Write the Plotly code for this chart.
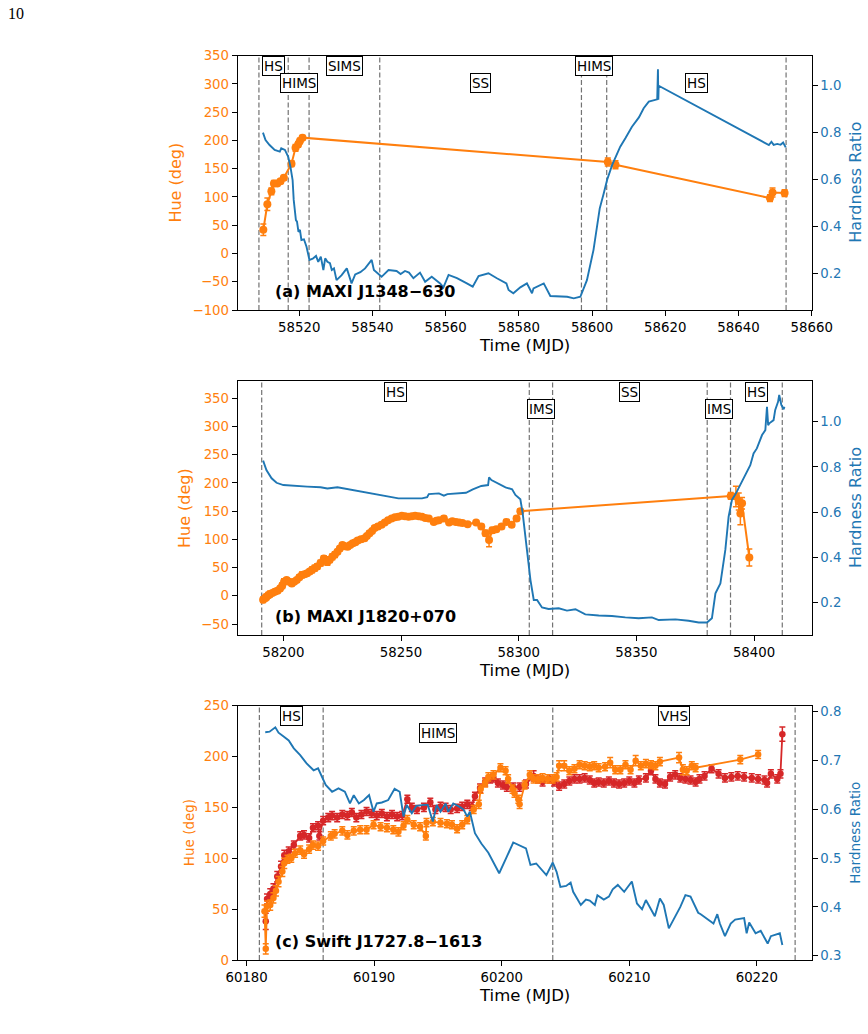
import plotly.graph_objects as go

# ---------------- data ----------------
# Panel (a) MAXI J1348-630 : hue (time, deg, err)
a_hue = [(58510.2, 42, 10), (58511.3, 87, 11), (58512.4, 110, 6), (58513.1, 124, 5),
         (58514.0, 124, 4), (58514.9, 128, 4), (58515.8, 134, 4), (58517.9, 159, 5),
         (58519.0, 187, 6), (58519.7, 193, 5), (58520.2, 199, 5), (58520.9, 205, 4),
         (58604.3, 162, 7), (58606.4, 157, 7), (58648.6, 98, 6), (58649.3, 108, 8),
         (58652.6, 107, 6)]
# Panel (a) hardness ratio (time, HR)
a_hr = [(58510.1, 0.800), (58510.8, 0.768), (58511.9, 0.747), (58513.3, 0.726), (58514.7, 0.719),
        (58515.1, 0.733), (58516.1, 0.726), (58517.0, 0.697), (58517.6, 0.655), (58518.2, 0.598),
        (58518.5, 0.513), (58519.1, 0.427), (58519.4, 0.420), (58519.8, 0.377), (58520.2, 0.385),
        (58520.6, 0.342), (58521.3, 0.345), (58522.0, 0.313), (58522.8, 0.257), (58523.7, 0.262),
        (58524.6, 0.274), (58525.2, 0.249), (58525.9, 0.271), (58526.6, 0.214), (58527.1, 0.264),
        (58527.7, 0.249), (58528.4, 0.243), (58528.9, 0.214), (58529.5, 0.221), (58530.2, 0.171),
        (58531.6, 0.192), (58533.0, 0.221), (58534.3, 0.157), (58535.3, 0.195), (58536.7, 0.205),
        (58538.0, 0.221), (58539.8, 0.257), (58540.4, 0.214), (58542.5, 0.185), (58544.4, 0.214),
        (58546.6, 0.210), (58547.7, 0.197), (58548.9, 0.210), (58550.0, 0.203), (58551.2, 0.179),
        (58553.0, 0.203), (58554.4, 0.164), (58556.2, 0.185), (58558.5, 0.157), (58559.4, 0.140),
        (58560.8, 0.193), (58563.1, 0.179), (58565.8, 0.157), (58567.4, 0.143), (58569.0, 0.188),
        (58571.7, 0.200), (58574.0, 0.179), (58576.6, 0.157), (58577.2, 0.129), (58578.5, 0.115),
        (58580.4, 0.140), (58582.2, 0.157), (58583.6, 0.115), (58584.0, 0.136), (58586.8, 0.157),
        (58588.6, 0.103), (58593.2, 0.100), (58595.0, 0.093), (58596.8, 0.100), (58598.6, 0.171),
        (58600.4, 0.300), (58602.1, 0.477), (58603.2, 0.541), (58604.1, 0.598), (58605.5, 0.662),
        (58606.7, 0.704), (58607.7, 0.740), (58609.1, 0.776), (58610.9, 0.825), (58612.8, 0.865),
        (58614.1, 0.904), (58615.5, 0.932), (58617.8, 0.942), (58618.0, 1.070), (58618.1, 0.940),
        (58618.2, 1.000), (58648.3, 0.747), (58649.0, 0.761), (58649.6, 0.748), (58650.6, 0.752),
        (58651.5, 0.748), (58652.2, 0.758), (58652.9, 0.737)]
a_vlines = [58509.0, 58517.0, 58522.7, 58542.0, 58597.1, 58604.0, 58653.0]
a_states = ["HS", "HIMS", "SIMS", "SS", "HIMS", "HS"]

# Panel (b) MAXI J1820+070
b_hue = [(58191.4, -7, 5), (58192.3, -4, 5), (58192.8, -2, 5), (58193.6, 1, 5), (58194.3, 3, 5),
         (58195.3, 5, 4), (58196.4, 7, 4), (58197.5, 9, 4), (58198.6, 13, 4), (58199.5, 18, 5),
         (58200.3, 25, 5), (58201.4, 28, 4), (58202.5, 25, 4), (58203.6, 22, 4), (58204.6, 25, 4),
         (58205.7, 28, 4), (58206.8, 33, 4), (58207.9, 37, 5), (58209.0, 38, 4), (58210.1, 40, 4),
         (58211.2, 43, 4), (58212.2, 46, 5), (58213.3, 49, 5), (58214.4, 52, 5), (58215.8, 58, 5),
         (58217.2, 66, 5), (58218.7, 60, 6), (58219.7, 64, 5), (58220.8, 69, 5), (58221.9, 73, 5),
         (58223.0, 78, 4), (58224.0, 84, 4), (58225.1, 90, 4), (58226.2, 88, 4), (58227.3, 87, 4),
         (58228.4, 90, 4), (58229.5, 93, 4), (58230.6, 95, 4), (58231.6, 98, 4), (58233.0, 100, 4),
         (58234.5, 102, 4), (58235.5, 106, 4), (58236.6, 111, 4), (58237.7, 115, 4), (58238.8, 120, 4),
         (58240.2, 123, 4), (58241.7, 126, 4), (58243.1, 130, 3), (58244.5, 134, 3), (58246.0, 137, 3),
         (58247.4, 139, 3), (58248.8, 140, 3), (58250.3, 142, 3), (58251.7, 141, 3), (58253.2, 140, 3),
         (58254.6, 141, 3), (58256.0, 142, 3), (58257.5, 141, 3), (58258.9, 140, 3), (58260.3, 138, 3),
         (58261.8, 137, 3), (58263.9, 131, 3), (58265.0, 133, 3), (58266.1, 134, 3), (58268.2, 137, 4),
         (58270.4, 130, 3), (58271.8, 132, 3), (58273.3, 131, 3), (58274.7, 130, 3), (58276.1, 129, 3),
         (58278.3, 127, 3), (58281.9, 130, 3), (58284.1, 123, 4), (58285.9, 111, 5), (58287.4, 99, 12),
         (58288.8, 116, 5), (58290.5, 118, 4), (58292.7, 123, 4), (58294.8, 131, 4), (58297.0, 126, 4),
         (58299.1, 137, 4), (58300.7, 150, 4),
         (58390.1, 177, 6), (58392.3, 176, 18), (58393.5, 167, 15), (58394.2, 146, 20), (58394.9, 164, 10),
         (58398.0, 68, 15)]
b_hr = [(58191.4, 0.828), (58192.8, 0.786), (58195.0, 0.750), (58197.1, 0.730), (58200.0, 0.720),
        (58204.3, 0.716), (58210.1, 0.713), (58215.8, 0.710), (58218.7, 0.705), (58223.0, 0.710),
        (58227.3, 0.702), (58233.0, 0.691), (58238.8, 0.683), (58244.5, 0.671), (58248.9, 0.661),
        (58253.2, 0.661), (58258.9, 0.661), (58261.1, 0.666), (58261.8, 0.680), (58266.1, 0.683),
        (58268.2, 0.673), (58269.7, 0.680), (58273.3, 0.683), (58277.6, 0.686), (58280.5, 0.701),
        (58284.1, 0.716), (58287.0, 0.720), (58287.4, 0.754), (58288.4, 0.742), (58291.5, 0.727),
        (58294.4, 0.710), (58297.2, 0.701), (58298.6, 0.676), (58300.7, 0.657), (58301.7, 0.595),
        (58303.5, 0.433), (58305.0, 0.300), (58306.4, 0.212), (58307.8, 0.212), (58309.9, 0.179),
        (58312.7, 0.172), (58317.0, 0.175), (58320.5, 0.165), (58324.1, 0.171), (58328.3, 0.148),
        (58334.0, 0.143), (58339.6, 0.141), (58345.3, 0.135), (58351.0, 0.131), (58356.6, 0.135),
        (58359.5, 0.123), (58366.6, 0.126), (58372.2, 0.120), (58376.5, 0.112), (58380.0, 0.112),
        (58382.1, 0.131), (58383.6, 0.241), (58385.7, 0.285), (58387.8, 0.433), (58389.2, 0.580),
        (58390.6, 0.654), (58392.3, 0.683), (58394.2, 0.720), (58396.3, 0.764), (58398.4, 0.808),
        (58399.8, 0.860), (58401.2, 0.882), (58403.4, 0.941), (58404.8, 0.963), (58405.5, 1.066),
        (58406.0, 0.985), (58406.5, 0.993), (58408.3, 1.007), (58409.0, 1.052), (58410.2, 1.088),
        (58410.7, 1.118), (58411.6, 1.074), (58412.6, 1.055), (58412.9, 1.066)]
b_vlines = [58190.8, 58304.5, 58314.4, 58380.1, 58390.0, 58412.0]
b_states = ["HS", "IMS", "SS", "IMS", "HS"]

# Panel (c) Swift J1727.8-1613
c_hue_orange = [(60181.4, 48, 6), (60181.5, 11, 5), (60181.6, 53, 5), (60181.85, 54, 5), (60182.1, 61, 5),
                (60182.3, 68, 5), (60182.5, 77, 5), (60182.8, 87, 5), (60182.95, 95, 5), (60183.2, 99, 4),
                (60183.5, 100, 4), (60183.8, 105, 4), (60184.2, 108, 4), (60184.5, 104, 4), (60184.9, 109, 4),
                (60185.2, 113, 4), (60185.6, 112, 4), (60186.0, 117, 4), (60186.6, 122, 4), (60186.9, 124, 4),
                (60187.5, 127, 4), (60187.9, 123, 4), (60188.4, 127, 4), (60188.9, 128, 4), (60189.4, 128, 4),
                (60189.95, 133, 4), (60190.5, 131, 4), (60191.0, 130, 4), (60191.5, 128, 4), (60191.9, 126, 4),
                (60192.3, 132, 4), (60192.6, 138, 4), (60193.1, 133, 4), (60193.6, 131, 4), (60194.05, 122, 4),
                (60194.1, 135, 4), (60194.6, 136, 4), (60195.2, 135, 4), (60195.7, 134, 4), (60196.1, 133, 4),
                (60196.5, 129, 4), (60196.9, 133, 4), (60197.3, 138, 4), (60197.8, 148, 4), (60198.2, 153, 4),
                (60198.35, 168, 4), (60198.7, 174, 4), (60198.95, 180, 4), (60199.35, 182, 4), (60199.9, 189, 4),
                (60200.3, 186, 4), (60200.5, 178, 4), (60200.85, 168, 4), (60201.0, 164, 4), (60201.3, 158, 4),
                (60201.4, 153, 4), (60201.8, 172, 4), (60202.2, 182, 4), (60202.5, 178, 4), (60202.85, 178, 4),
                (60203.2, 179, 4), (60203.6, 178, 4), (60204.0, 178, 4), (60204.3, 180, 4), (60204.5, 191, 5),
                (60204.9, 191, 5), (60205.3, 186, 4), (60205.7, 188, 4), (60206.1, 192, 4), (60206.5, 191, 4),
                (60206.9, 190, 4), (60207.25, 191, 4), (60207.6, 189, 4), (60208.1, 190, 4), (60208.5, 194, 5),
                (60208.9, 187, 4), (60209.3, 187, 4), (60209.7, 192, 4), (60210.1, 187, 4), (60210.5, 196, 5),
                (60210.9, 191, 4), (60211.3, 193, 4), (60211.7, 192, 4), (60212.05, 191, 4), (60212.4, 195, 4),
                (60213.9, 199, 5), (60214.2, 187, 5), (60214.5, 186, 4), (60214.9, 191, 4), (60215.2, 189, 4),
                (60218.7, 197, 4), (60220.1, 202, 4)]
c_hue_red = [(60181.5, 38, 8), (60181.6, 60, 5), (60181.85, 65, 5), (60182.1, 70, 5), (60182.4, 82, 5),
             (60182.7, 92, 5), (60182.95, 103, 5), (60183.3, 107, 4), (60183.7, 113, 4), (60184.2, 122, 4),
             (60184.5, 123, 4), (60184.9, 120, 4), (60185.2, 130, 4), (60185.6, 132, 4), (60185.7, 122, 4),
             (60186.0, 137, 4), (60186.4, 140, 4), (60186.7, 142, 4), (60187.1, 140, 4), (60187.5, 143, 4),
             (60187.9, 142, 4), (60188.25, 145, 4), (60188.6, 140, 4), (60189.0, 143, 4), (60189.4, 146, 4),
             (60189.8, 144, 4), (60190.2, 142, 4), (60190.6, 144, 4), (60191.0, 141, 4), (60191.4, 143, 4),
             (60191.8, 141, 4), (60192.2, 142, 4), (60192.6, 158, 4), (60192.95, 150, 4), (60193.35, 148, 4),
             (60193.9, 150, 4), (60194.4, 155, 4), (60194.8, 148, 4), (60195.2, 151, 4), (60195.6, 150, 4),
             (60196.0, 148, 4), (60196.5, 149, 4), (60196.9, 151, 4), (60197.3, 153, 4), (60197.65, 151, 4),
             (60197.9, 161, 4), (60198.3, 169, 4), (60198.7, 175, 4), (60199.1, 178, 4), (60199.35, 179, 4),
             (60199.7, 174, 4), (60200.1, 172, 4), (60200.4, 170, 4), (60200.9, 170, 4), (60201.4, 170, 4),
             (60201.9, 173, 4), (60202.5, 181, 5), (60202.85, 178, 4), (60203.2, 175, 4), (60203.75, 178, 4),
             (60204.1, 175, 4), (60204.5, 171, 4), (60204.9, 173, 4), (60205.3, 176, 4), (60205.7, 178, 4),
             (60206.1, 178, 4), (60206.5, 179, 4), (60206.9, 177, 4), (60207.25, 174, 4), (60207.6, 175, 4),
             (60208.0, 174, 4), (60208.4, 176, 4), (60208.8, 174, 4), (60209.2, 173, 4), (60209.6, 174, 4),
             (60210.0, 176, 4), (60210.4, 174, 4), (60210.75, 177, 4), (60211.3, 179, 4), (60211.7, 186, 4),
             (60212.05, 178, 4), (60212.4, 174, 4), (60212.8, 173, 4), (60213.2, 180, 4), (60213.6, 182, 4),
             (60214.0, 179, 4), (60214.4, 178, 4), (60214.8, 177, 4), (60215.2, 175, 4), (60215.5, 178, 4),
             (60215.9, 181, 4), (60216.45, 188, 4), (60217.0, 183, 4), (60217.5, 179, 4), (60218.0, 180, 4),
             (60218.5, 181, 4), (60219.0, 180, 4), (60219.6, 179, 4), (60220.1, 178, 4), (60220.6, 177, 4),
             (60220.8, 174, 4), (60221.1, 183, 4), (60221.6, 178, 4), (60221.85, 183, 4), (60222.0, 222, 7)]
c_hr = [(60181.46, 0.758), (60181.8, 0.759), (60182.25, 0.768), (60182.5, 0.757), (60182.9, 0.749),
        (60183.3, 0.741), (60183.7, 0.725), (60184.2, 0.711), (60184.7, 0.694), (60185.25, 0.680),
        (60185.6, 0.684), (60186.2, 0.650), (60186.7, 0.636), (60187.2, 0.643), (60187.7, 0.636),
        (60188.1, 0.612), (60188.4, 0.629), (60188.8, 0.612), (60189.2, 0.619), (60189.6, 0.629),
        (60189.95, 0.595), (60190.2, 0.612), (60190.6, 0.614), (60191.1, 0.619), (60191.6, 0.642),
        (60192.0, 0.636), (60192.3, 0.585), (60192.55, 0.609), (60192.95, 0.592), (60193.3, 0.607),
        (60193.9, 0.609), (60194.2, 0.609), (60194.6, 0.575), (60194.9, 0.609), (60195.2, 0.595),
        (60195.6, 0.612), (60195.8, 0.595), (60196.2, 0.612), (60196.7, 0.605), (60197.0, 0.600),
        (60197.3, 0.585), (60197.5, 0.595), (60197.9, 0.551), (60198.4, 0.530), (60198.95, 0.511),
        (60199.3, 0.493), (60199.8, 0.469), (60200.4, 0.503), (60200.9, 0.532), (60201.9, 0.520),
        (60202.25, 0.486), (60202.7, 0.489), (60203.5, 0.465), (60204.0, 0.491), (60204.3, 0.472),
        (60204.6, 0.441), (60205.05, 0.443), (60205.4, 0.450), (60205.6, 0.431), (60206.2, 0.404),
        (60206.6, 0.415), (60206.9, 0.413), (60207.3, 0.404), (60207.5, 0.424), (60208.0, 0.415),
        (60208.4, 0.421), (60208.7, 0.436), (60209.1, 0.445), (60209.6, 0.431), (60210.2, 0.452),
        (60210.6, 0.407), (60211.0, 0.395), (60211.3, 0.414), (60212.0, 0.381), (60212.4, 0.417),
        (60212.7, 0.404), (60213.1, 0.356), (60214.0, 0.400), (60214.4, 0.424), (60214.8, 0.421),
        (60215.4, 0.388), (60215.6, 0.385), (60216.2, 0.373), (60216.6, 0.366), (60216.9, 0.385),
        (60217.1, 0.366), (60217.5, 0.340), (60217.95, 0.366), (60218.3, 0.374), (60218.8, 0.377),
        (60219.0, 0.377), (60219.2, 0.346), (60219.4, 0.368), (60219.9, 0.346), (60220.3, 0.351),
        (60220.85, 0.325), (60221.1, 0.340), (60221.8, 0.346), (60222.0, 0.322)]
c_vlines = [60181.0, 60186.0, 60204.0, 60223.0]
c_states = ["HS", "HIMS", "VHS"]

panel_titles = ["(a) MAXI J1348\u2212630", "(b) MAXI J1820+070", "(c) Swift J1727.8\u22121613"]

# ---------------- styling / layout ----------------
W, H = 868, 1034
ORANGE = "#ff7f0e"
BLUE = "#1f77b4"
RED = "#d62728"
FONT = "DejaVu Sans"


def fx(p):
    return p / W


def fy(p):
    return 1 - p / H


XDOM = [fx(237.7), fx(811.7)]
PIX = [(55.7, 310.0), (381.0, 635.0), (705.7, 960.0)]

fig = go.Figure()


def hue_trace(data, color, xa, ya, msize, lw):
    t = [d[0] for d in data]
    v = [d[1] for d in data]
    e = [d[2] for d in data]
    return go.Scatter(x=t, y=v, xaxis=xa, yaxis=ya, mode="lines+markers",
                      line=dict(color=color, width=lw),
                      marker=dict(color=color, size=msize),
                      error_y=dict(type="data", array=e, color=color, thickness=1.5, width=3),
                      showlegend=False)


def hr_trace(data, xa, ya, lw):
    return go.Scatter(x=[d[0] for d in data], y=[d[1] for d in data], xaxis=xa, yaxis=ya,
                      mode="lines", line=dict(color=BLUE, width=lw), showlegend=False)


fig.add_trace(hue_trace(a_hue, ORANGE, "x", "y", 8, 2))
fig.add_trace(hr_trace(a_hr, "x", "y2", 1.9))
fig.add_trace(hue_trace(b_hue, ORANGE, "x2", "y3", 8, 2))
fig.add_trace(hr_trace(b_hr, "x2", "y4", 1.9))
fig.add_trace(hue_trace(c_hue_red, RED, "x3", "y5", 6.5, 1.8))
fig.add_trace(hue_trace(c_hue_orange, ORANGE, "x3", "y5", 6.5, 1.8))
fig.add_trace(hr_trace(c_hr, "x3", "y6", 1.9))

COMMON = dict(showline=True, linecolor="black", linewidth=1, automargin=False,
              ticks="outside", ticklen=5, tickwidth=1, tickcolor="black",
              showgrid=False, zeroline=False)


def xaxis(rng, dtick, anchor):
    return dict(domain=XDOM, range=rng, dtick=dtick, tick0=0, tickformat="d", anchor=anchor,
                mirror=True, tickfont=dict(family=FONT, size=13.3, color="black"), **COMMON)


def yleft(rng, dtick, dom, anchor):
    return dict(domain=dom, range=rng, dtick=dtick, tick0=0, anchor=anchor,
                tickfont=dict(family=FONT, size=13.3, color=ORANGE), **COMMON)


def yright(rng, dtick, over, anchor):
    return dict(range=rng, dtick=dtick, tick0=0, overlaying=over, side="right", anchor=anchor,
                tickformat=".1f", tickfont=dict(family=FONT, size=13.3, color=BLUE), **COMMON)


doms = [[fy(b), fy(t)] for (t, b) in PIX]

fig.update_layout(
    template="none",
    width=W, height=H, margin=dict(l=0, r=0, t=0, b=0, pad=0, autoexpand=False), autosize=False,
    paper_bgcolor="white", plot_bgcolor="white",
    font=dict(family=FONT, color="black"),
    xaxis=xaxis([58503.2, 58660.0], 20, "y"),
    yaxis=yleft([-100, 350], 50, doms[0], "x"),
    yaxis2=yright([0.0435, 1.128], 0.2, "y", "x"),
    xaxis2=xaxis([58180.6, 58424.5], 50, "y3"),
    yaxis3=yleft([-69.5, 380.7], 50, doms[1], "x2"),
    yaxis4=yright([0.057, 1.18], 0.2, "y3", "x2"),
    xaxis3=xaxis([60179.3, 60224.3], 10, "y5"),
    yaxis5=yleft([0, 250], 50, doms[2], "x3"),
    yaxis6=yright([0.2912, 0.8123], 0.1, "y5", "x3"),
)

shapes = []
annotations = []
panel_defs = [("x", "y", a_vlines, a_states), ("x2", "y3", b_vlines, b_states),
              ("x3", "y5", c_vlines, c_states)]
for i, (xa, ya, vl, states) in enumerate(panel_defs):
    for v in vl:
        shapes.append(dict(type="line", xref=xa, yref=f"{ya} domain", x0=v, x1=v, y0=0, y1=1,
                           line=dict(color="rgba(100,100,100,0.9)", width=1.2, dash="5px,2.5px"),
                           layer="below"))
    for k, s in enumerate(states):
        xm = 0.5 * (vl[k] + vl[k + 1])
        annotations.append(dict(text=s, x=xm, y=0.958 if k % 2 == 0 else 0.891,
                                xref=xa, yref=f"{ya} domain", xanchor="center", yanchor="middle",
                                showarrow=False, font=dict(family=FONT, size=13.5, color="black"),
                                bgcolor="white", bordercolor="black", borderwidth=1, borderpad=1))
    annotations.append(dict(text=f"<b>{panel_titles[i]}</b>", x=0.0615, y=0.072,
                            xref=f"{xa} domain", yref=f"{ya} domain", xanchor="left", yanchor="middle",
                            showarrow=False, font=dict(family=FONT, size=16, color="black")))

# axis titles
xt_y = [345, 670, 995]
hue_x = [175.7, 185.0, 189.3]
hr_x = [856.0, 856.0, 855.0]
tsize = [16, 16, 13.5]
for i, (t, b) in enumerate(PIX):
    mid = 0.5 * (t + b)
    annotations.append(dict(text="Time (MJD)", x=fx(524.7), y=fy(xt_y[i]), xref="paper", yref="paper",
                            xanchor="center", yanchor="middle", showarrow=False,
                            font=dict(family=FONT, size=16.5, color="black")))
    annotations.append(dict(text="Hue (deg)", x=fx(hue_x[i]), y=fy(mid), xref="paper", yref="paper",
                            xanchor="center", yanchor="middle", textangle=-90, showarrow=False,
                            font=dict(family=FONT, size=tsize[i], color=ORANGE)))
    annotations.append(dict(text="Hardness Ratio", x=fx(hr_x[i]), y=fy(mid), xref="paper", yref="paper",
                            xanchor="center", yanchor="middle", textangle=-90, showarrow=False,
                            font=dict(family=FONT, size=tsize[i], color=BLUE)))

annotations.append(dict(text="10", x=fx(6), y=fy(14), xref="paper", yref="paper",
                        xanchor="left", yanchor="middle", showarrow=False,
                        font=dict(family="Liberation Serif", size=16, color="black")))

fig.update_layout(shapes=shapes, annotations=annotations)
fig.write_html("out.html")
